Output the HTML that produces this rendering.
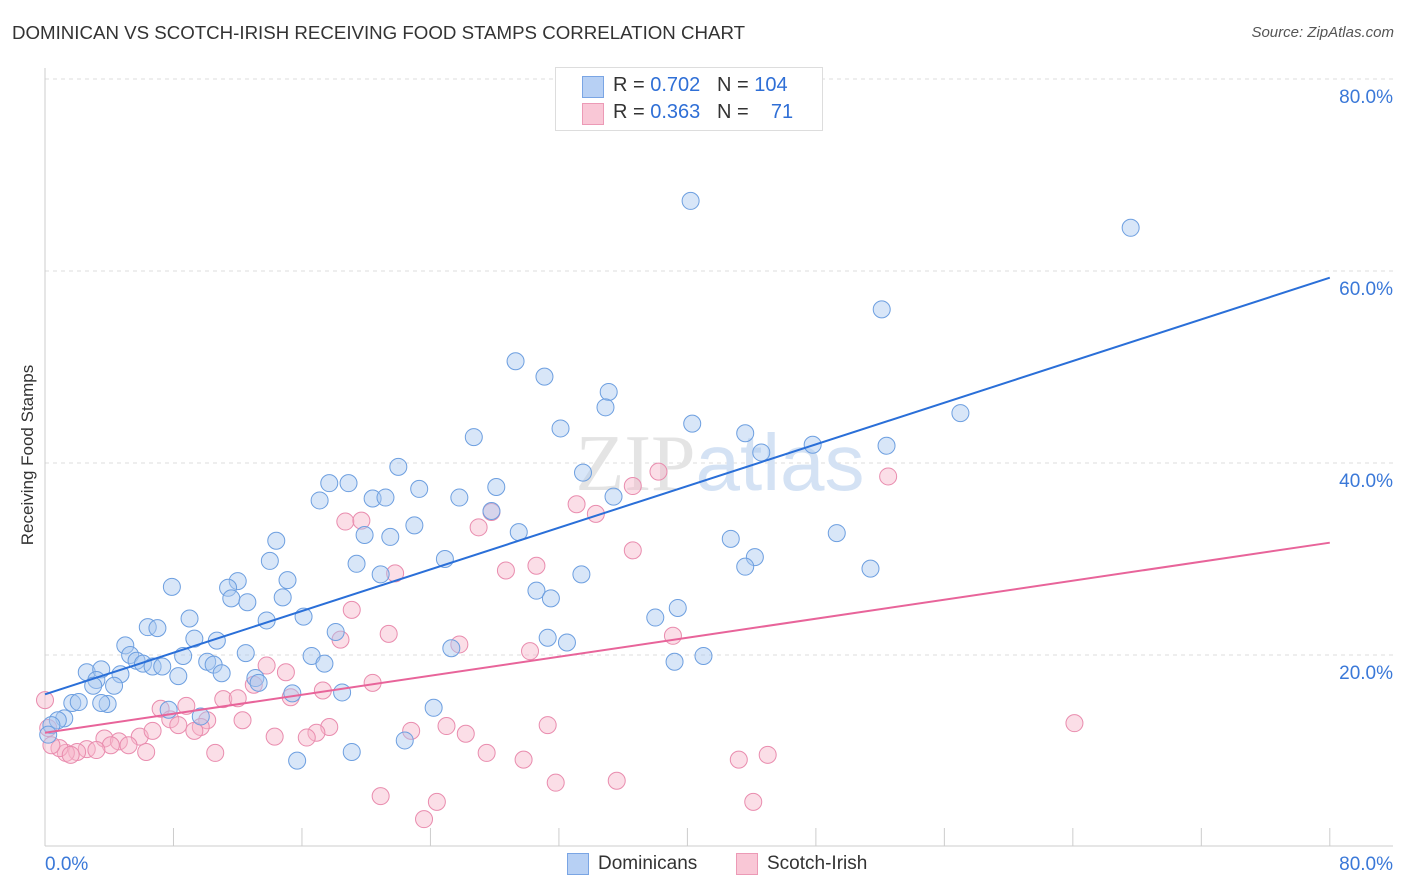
<!DOCTYPE html>
<html><head><meta charset="utf-8"><style>
body{margin:0;background:#fff;font-family:"Liberation Sans",sans-serif;}
#wrap{position:relative;width:1406px;height:892px;overflow:hidden;}
.t{position:absolute;white-space:nowrap;}
</style></head><body>
<div id="wrap">
<div class="t" style="left:12px;top:22px;font-size:18.7px;color:#333;">DOMINICAN VS SCOTCH-IRISH RECEIVING FOOD STAMPS CORRELATION CHART</div>
<div class="t" style="right:12px;top:24px;font-size:15px;color:#555;font-style:italic;">Source: ZipAtlas.com</div>
<svg id="svg" width="1406" height="892" style="position:absolute;left:0;top:0"></svg>
<div class="t" style="left:28px;top:455px;font-size:17px;color:#333;transform:translate(-50%,-50%) rotate(-90deg);">Receiving Food Stamps</div>
<div style="position:absolute;left:555px;top:67px;width:266px;height:62px;border:1px solid #ddd;background:#fff;font-size:20px;">
 <div style="position:absolute;left:26px;top:8px;width:20px;height:20px;background:#b7d0f4;border:1px solid #7aa5e4;"></div>
 <div class="t" style="left:57px;top:6px;color:#333;">R = <span style="color:#2f6fd6">0.702</span>&nbsp;&nbsp; N = <span style="color:#2f6fd6">104</span></div>
 <div style="position:absolute;left:26px;top:35px;width:20px;height:20px;background:#f9c7d6;border:1px solid #ec9ab6;"></div>
 <div class="t" style="left:57px;top:33px;color:#333;">R = <span style="color:#2f6fd6">0.363</span>&nbsp;&nbsp; N = <span style="color:#2f6fd6">&nbsp;&nbsp;&nbsp;71</span></div>
</div>
<div style="position:absolute;left:567px;top:853px;">
 <div style="position:absolute;left:0;top:0;width:20px;height:20px;background:#b7d0f4;border:1px solid #7aa5e4;"></div>
 <div class="t" style="left:31px;top:0;font-size:19px;color:#333;">Dominicans</div></div>
<div style="position:absolute;left:736px;top:853px;">
 <div style="position:absolute;left:0;top:0;width:20px;height:20px;background:#f9c7d6;border:1px solid #ec9ab6;"></div>
 <div class="t" style="left:31px;top:0;font-size:19px;color:#333;">Scotch-Irish</div></div>
</div>
<script>
const blueX=[40.2,67.6,52.1,29.3,31.1,35.1,34.9,57.0,26.7,32.1,40.3,43.6,47.8,52.4,44.6,22.0,33.5,23.3,28.1,17.7,18.9,20.4,21.2,25.8,35.4,17.1,27.8,23.0,29.5,19.9,21.5,42.7,49.3,14.4,14.0,24.9,19.4,44.2,43.6,20.9,33.4,51.4,7.9,12.0,11.4,15.1,11.6,12.6,14.8,30.6,31.5,9.0,13.8,16.1,38.0,39.4,6.4,7.0,9.3,10.7,5.0,18.1,31.3,32.5,5.3,8.6,12.5,25.3,5.7,6.1,16.6,10.1,10.5,17.4,39.2,41.0,2.6,3.5,6.7,7.3,4.7,8.3,11.0,3.2,4.3,3.0,13.1,13.3,15.4,18.5,1.7,2.1,3.9,3.5,9.7,7.7,24.2,1.2,0.8,0.4,15.7,19.1,22.4,0.2];
const blueY=[67.3,64.5,56.0,50.6,49.0,47.4,45.8,45.2,42.7,43.6,44.1,43.1,41.9,41.8,41.1,39.6,39.0,37.3,37.5,37.9,37.9,36.3,36.4,36.4,36.5,36.1,35.0,33.5,32.8,32.5,32.3,32.1,32.7,31.9,29.8,30.0,29.5,30.2,29.2,28.4,28.4,29.0,27.1,27.7,27.0,27.8,25.9,25.5,26.0,26.7,25.9,23.8,23.6,24.0,23.9,24.9,22.9,22.8,21.7,21.5,21.0,22.4,21.8,21.3,20.0,19.9,20.2,20.7,19.4,19.1,19.9,19.3,19.0,19.1,19.3,19.9,18.2,18.5,18.8,18.8,18.0,17.8,18.1,17.4,16.8,16.8,17.6,17.1,16.0,16.1,15.0,15.1,14.9,15.0,13.6,14.3,14.5,13.4,13.2,12.7,9.0,9.9,11.1,11.7];
const pinkX=[52.5,38.2,36.6,33.1,27.8,34.3,18.7,19.7,27.0,36.6,28.7,30.6,21.8,19.1,25.8,30.2,39.1,21.4,18.4,13.8,15.0,20.4,13.0,11.1,12.0,15.3,17.3,7.2,8.8,7.8,10.1,12.3,8.3,9.7,9.3,64.1,25.0,31.3,17.7,16.9,22.8,26.2,16.3,14.3,3.7,4.6,5.9,6.7,4.1,5.2,2.6,3.2,2.0,1.3,0.9,6.3,10.6,27.5,29.8,43.2,45.0,31.8,35.6,20.9,24.4,44.1,23.6,0.2,0.4,1.6,0.0];
const pinkY=[38.6,39.1,37.6,35.7,34.9,34.7,33.9,34.0,33.3,30.9,28.8,29.3,28.5,24.7,21.1,20.4,22.0,22.2,21.6,18.9,18.2,17.1,16.9,15.4,15.5,15.6,16.3,14.4,14.7,13.3,13.2,13.2,12.7,12.5,12.1,12.9,12.6,12.7,12.5,11.9,12.1,11.8,11.4,11.5,11.3,11.0,11.5,12.1,10.6,10.6,10.2,10.1,9.9,9.8,10.3,9.9,9.8,9.8,9.1,9.1,9.6,6.7,6.9,5.3,4.7,4.7,2.9,12.4,10.6,9.6,15.3];
const blueTrend=[15.9,59.3];
const pinkTrend=[11.9,31.7];
const yTicks=[20,40,60,80];
const yTickLabels=["20.0%","40.0%","60.0%","80.0%"];
const xTicks=[0,8,16,24,32,40,48,56,64,72,80];

const NS="http://www.w3.org/2000/svg";
const svg=document.getElementById('svg');
const sx=v=>45+v*16.06;
const sy=v=>847-v*9.6;
function mk(tag,attrs){const e=document.createElementNS(NS,tag);for(const k in attrs)e.setAttribute(k,attrs[k]);svg.appendChild(e);return e;}
yTicks.forEach((t,i)=>{
  const g=mk('line',{x1:45,x2:1393,y1:sy(t),y2:sy(t),stroke:'#ddd','stroke-dasharray':'4,4'});
  
  
  const tx=mk('text',{x:1393,y:sy(t)+24,'text-anchor':'end','font-size':19,fill:'#3a78d8','font-family':'Liberation Sans, sans-serif'});
  tx.textContent=yTickLabels[i];
  
  
});
const ax=mk('line',{x1:45,x2:1393,y1:846,y2:846,stroke:'#ccc'});


const ay=mk('line',{x1:45,x2:45,y1:68,y2:846,stroke:'#ccc'});


xTicks.forEach(t=>{
  const l=mk('line',{x1:sx(t),x2:sx(t),y1:828,y2:846,stroke:'#ccc'});
  
  
});
const xl0=mk('text',{x:45,y:870,'font-size':19,fill:'#3a78d8','font-family':'Liberation Sans, sans-serif'});
xl0.textContent='0.0%';


const xl1=mk('text',{x:1393,y:870,'text-anchor':'end','font-size':19,fill:'#3a78d8','font-family':'Liberation Sans, sans-serif'});
xl1.textContent='80.0%';


const wm=mk('text',{x:720,y:490,'text-anchor':'middle','font-size':80,fill:'#e4e4e4','font-family':'Liberation Serif, serif'});
wm.innerHTML='ZIP<tspan fill="#d4e2f4" font-family="Liberation Sans, sans-serif">atlas</tspan>';


function pts(X,Y,fill,stroke,name){
  X.forEach((x,i)=>{
    const c=mk('circle',{cx:sx(x),cy:sy(Y[i]),r:8.5,fill:fill,'fill-opacity':0.45,stroke:stroke,'stroke-width':1});
    
    
  });
}
pts(pinkX,pinkY,'#f7b6ca','#e98cae','scotch-irish-point');
pts(blueX,blueY,'#a9c7f0','#6d9fe0','dominican-point');
const tb=mk('line',{x1:sx(0),y1:sy(blueTrend[0]),x2:sx(80),y2:sy(blueTrend[1]),stroke:'#2a6fd8','stroke-width':2});


const tp=mk('line',{x1:sx(0),y1:sy(pinkTrend[0]),x2:sx(80),y2:sy(pinkTrend[1]),stroke:'#e8649a','stroke-width':2});


</script>
</body></html>
